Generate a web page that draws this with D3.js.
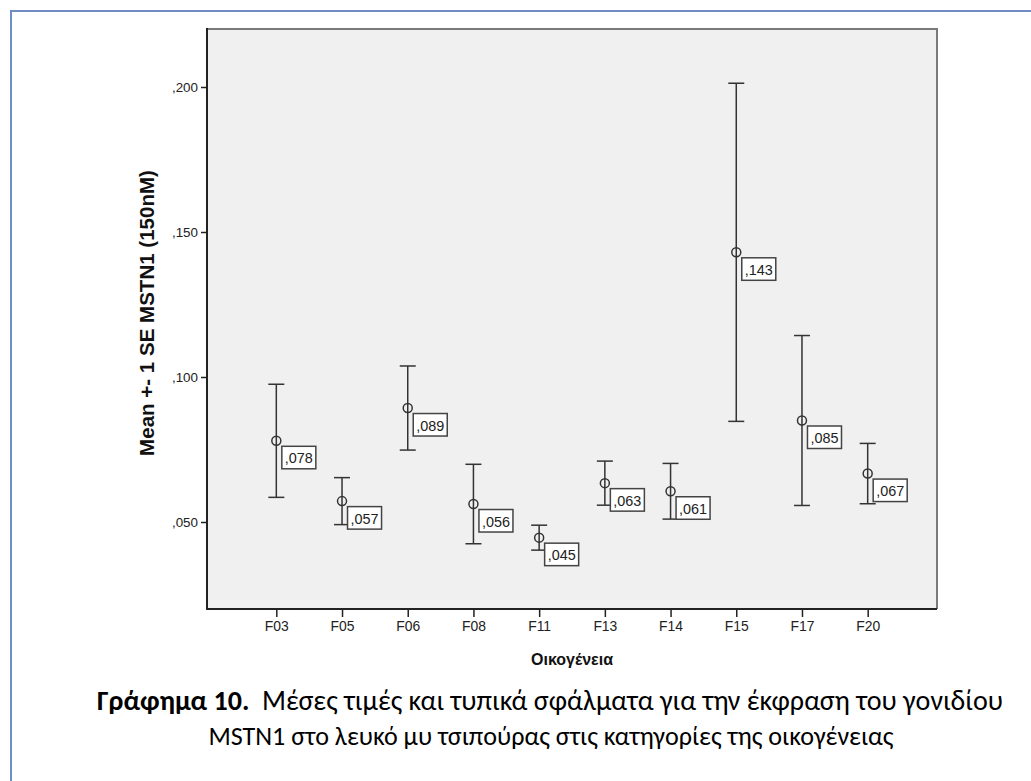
<!DOCTYPE html>
<html>
<head>
<meta charset="utf-8">
<script src="https://cdn.jsdelivr.net/npm/d3@7"></script>
<style>
  body { margin: 0; background: #fff; }
  svg { display: block; }
  .sans { font-family: Arial, "Liberation Sans", sans-serif; }
</style>
</head>
<body>
<svg id="chart" width="1031" height="781"></svg>
<script>
// families on the x axis
var families = ["F03", "F05", "F06", "F08", "F11", "F13", "F14", "F15", "F17", "F20"];
// mean MSTN1 expression per family
var means = [0.0780, 0.0572, 0.0893, 0.0562, 0.0446, 0.0634, 0.0606, 0.1430, 0.0850, 0.0667];
// +- 1 standard error
var stdErrors = [0.0195, 0.0081, 0.0145, 0.0137, 0.0043, 0.0076, 0.0096, 0.0583, 0.0293, 0.0104];
var yTicks = [0.05, 0.10, 0.15, 0.20];

var svg = d3.select("#chart");

var plot = { left: 207, right: 937, top: 29, bottom: 609 };

// outer frame (runs off to the right and bottom)
svg.append("path")
    .attr("d", "M11,790 L11,11 L1040,11")
    .attr("fill", "none")
    .attr("stroke", "#6f8dc2")
    .attr("stroke-width", 2);

var x = d3.scalePoint()
    .domain(families)
    .range([plot.left, plot.right])
    .padding(1.055);

var y = d3.scaleLinear()
    .domain([0.02, 0.22])
    .range([plot.bottom, plot.top]);

var fmt = function (v) { return d3.format(".3f")(v).replace(/^0\./, ","); };

// fit a text element's font size to a target width
function fitWidth(sel, target)
{
    var size = parseFloat(sel.style("font-size"));
    var w = sel.node().getComputedTextLength();
    sel.style("font-size", (size * target / w) + "px");
}

// plot background
svg.append("rect")
    .attr("x", plot.left).attr("y", plot.top)
    .attr("width", plot.right - plot.left)
    .attr("height", plot.bottom - plot.top)
    .attr("fill", "#f0f0f0");

// top and right frame, gray
svg.append("path")
    .attr("d", "M" + plot.left + "," + plot.top + " L" + plot.right + "," + plot.top + " L" + plot.right + "," + plot.bottom)
    .attr("fill", "none")
    .attr("stroke", "#7a7a7a")
    .attr("stroke-width", 2);

// axes
var yAxis = svg.append("g")
    .attr("transform", "translate(" + plot.left + ",0)")
    .call(d3.axisLeft(y).tickValues(yTicks).tickFormat(fmt).tickSize(6).tickPadding(3));

var xAxis = svg.append("g")
    .attr("transform", "translate(0," + plot.bottom + ")")
    .call(d3.axisBottom(x).tickSize(8).tickPadding(4));

[yAxis, xAxis].forEach(function (ax) {
    ax.attr("font-family", null).attr("font-size", null);
    ax.select(".domain").remove();
    ax.selectAll(".tick line").attr("stroke", "#222").attr("stroke-width", 1.5);
    ax.selectAll(".tick text")
        .classed("sans", true)
        .attr("fill", "#222");
});
yAxis.selectAll(".tick text").style("font-size", "13.4px");
xAxis.selectAll(".tick text").style("font-size", "13.9px");

// black axis lines
svg.append("path")
    .attr("d", "M" + plot.left + "," + (plot.top - 1) + " L" + plot.left + "," + plot.bottom + " L" + plot.right + "," + plot.bottom)
    .attr("fill", "none")
    .attr("stroke", "#222")
    .attr("stroke-width", 2);

// axis titles
var yTitle = svg.append("text")
    .classed("sans", true)
    .attr("transform", "translate(154,313) rotate(-90)")
    .attr("text-anchor", "middle")
    .style("font-size", "16px")
    .style("font-weight", "bold")
    .attr("fill", "#111")
    .text("Mean +- 1 SE MSTN1 (150nM)");
fitWidth(yTitle, 286);

var xTitle = svg.append("text")
    .classed("sans", true)
    .attr("x", (plot.left + plot.right) / 2)
    .attr("y", 665)
    .attr("text-anchor", "middle")
    .style("font-size", "16px")
    .style("font-weight", "bold")
    .attr("fill", "#111")
    .text("Οικογένεια");
fitWidth(xTitle, 82);

var data = families.map(function (f, i) {
    return { fam: f, mean: means[i], se: stdErrors[i] };
});

var marks = svg.append("g").selectAll("g.errbar")
    .data(data)
    .enter().append("g").classed("errbar", true);

var barColor = "#333";
var capHalf = 8;

marks.append("line")
    .attr("x1", d => x(d.fam)).attr("x2", d => x(d.fam))
    .attr("y1", d => y(d.mean + d.se)).attr("y2", d => y(d.mean - d.se))
    .attr("stroke", barColor).attr("stroke-width", 1.5);

marks.append("line")
    .attr("x1", d => x(d.fam) - capHalf).attr("x2", d => x(d.fam) + capHalf)
    .attr("y1", d => y(d.mean + d.se)).attr("y2", d => y(d.mean + d.se))
    .attr("stroke", barColor).attr("stroke-width", 1.5);

marks.append("line")
    .attr("x1", d => x(d.fam) - capHalf).attr("x2", d => x(d.fam) + capHalf)
    .attr("y1", d => y(d.mean - d.se)).attr("y2", d => y(d.mean - d.se))
    .attr("stroke", barColor).attr("stroke-width", 1.5);

marks.append("circle")
    .attr("cx", d => x(d.fam))
    .attr("cy", d => y(d.mean))
    .attr("r", 4.5)
    .attr("fill", "none")
    .attr("stroke", barColor)
    .attr("stroke-width", 1.5);

// value labels in boxes
var labels = marks.append("g")
    .attr("transform", d => "translate(" + (x(d.fam) + 5.5) + "," + (y(d.mean) + 5.5) + ")");

labels.each(function (d) {
    var g = d3.select(this);
    var rect = g.append("rect").attr("fill", "#fff").attr("stroke", "#444").attr("stroke-width", 1.5);
    var t = g.append("text")
        .classed("sans", true)
        .attr("x", 3).attr("y", 17)
        .style("font-size", "14.4px")
        .attr("fill", "#222")
        .text(fmt(d.mean));
    var w = t.node().getComputedTextLength();
    rect.attr("width", w + 6).attr("height", 22.5);
});

// caption
var capFont = "Carlito, Calibri, 'Noto Sans', sans-serif";
var cap1 = svg.append("text")
    .attr("x", 550).attr("y", 710)
    .attr("text-anchor", "middle")
    .style("font-family", capFont)
    .style("font-size", "20px")
    .attr("fill", "#000");
cap1.append("tspan").style("font-weight", "bold").text("Γράφημα 10.");
cap1.append("tspan").text("\u00a0 Μέσες τιμές και τυπικά σφάλματα για την έκφραση του γονιδίου");

var cap2 = svg.append("text")
    .attr("x", 551).attr("y", 745)
    .attr("text-anchor", "middle")
    .style("font-family", capFont)
    .style("font-size", "20px")
    .attr("fill", "#000")
    .text("MSTN1 στο λευκό μυ τσιπούρας στις κατηγορίες της οικογένειας");

fitWidth(cap1, 906);
cap2.style("font-size", (parseFloat(cap1.style("font-size")) * 0.93) + "px");
</script>
</body>
</html>
